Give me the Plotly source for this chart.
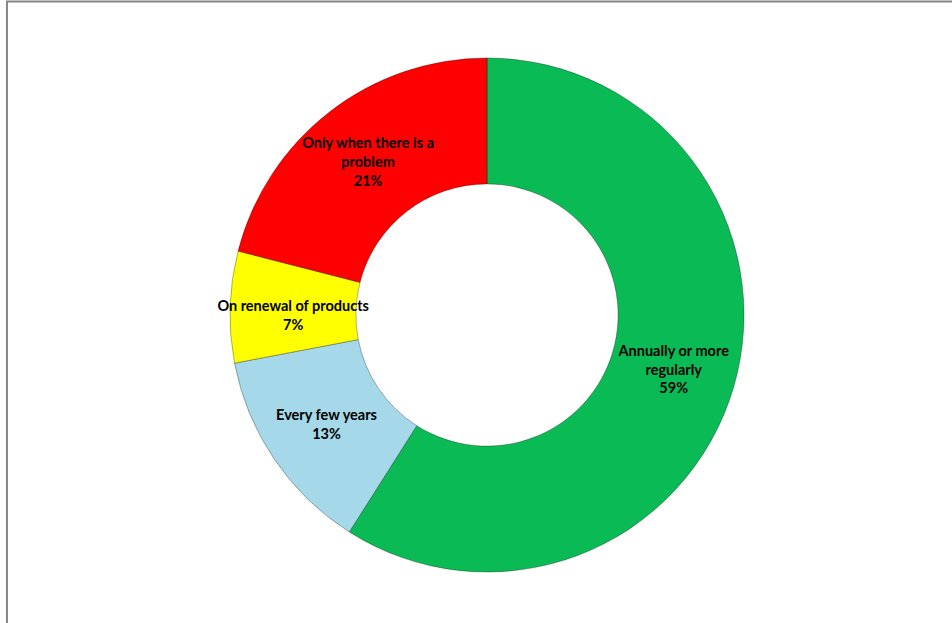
import plotly.graph_objects as go

categories = ["Annually or more regularly", "Every few years", "On renewal of products", "Only when there is a problem"]
display_labels = ["Annually or more<br>regularly", "Every few years", "On renewal of products", "Only when there is a<br>problem"]
values = [59, 13, 7, 21]
colors = ["#0ABB55", "#A5D8E8", "#FFFF00", "#FF0000"]

fig = go.Figure(go.Pie(
    labels=categories,
    values=values,
    text=display_labels,
    texttemplate="<b>%{text}<br>%{value}%</b>",
    textinfo="text",
    textposition="inside",
    insidetextorientation="horizontal",
    hole=0.51,
    sort=False,
    direction="clockwise",
    rotation=0,
    marker=dict(colors=colors, line=dict(color="rgba(0,0,0,0.3)", width=1)),
    textfont=dict(family="Lato, Liberation Sans, Arial, sans-serif", size=14.5, color="#000000"),
    showlegend=False,
))

fig.update_layout(
    width=952, height=623,
    margin=dict(l=230, r=208, t=58, b=51),
    paper_bgcolor="white",
    plot_bgcolor="white",
    uniformtext=dict(minsize=14.5, mode="show"),
    shapes=[dict(type="rect", xref="paper", yref="paper",
                 x0=-0.4339, x1=1.5, y0=-0.2, y1=1.1099,
                 line=dict(color="#888888", width=2), fillcolor="rgba(0,0,0,0)", layer="below")],
)

fig.write_html("out.html", config={"displayModeBar": False},
               post_script="document.body.style.margin='0px';")
